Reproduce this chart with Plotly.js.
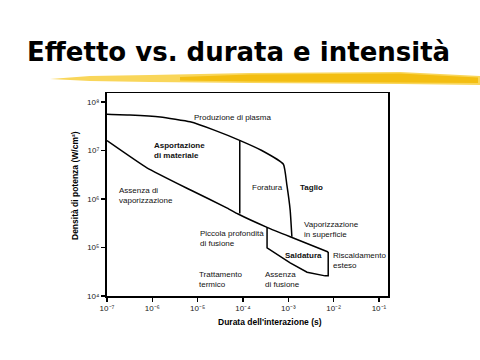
<!DOCTYPE html>
<html><head><meta charset="utf-8">
<script src="https://cdn.plot.ly/plotly-3.0.1.min.js"></script>
<style>html,body{margin:0;padding:0;background:#fff}#chart{width:480px;height:360px}</style>
</head><body><div id="chart"></div>
<script>
// ---- data (interaction time in s, power density in W/cm²) ----
const plasmaTime    = [1e-7, 3.2e-7, 1.5e-6, 6.8e-6, 2.4e-5, 8.7e-5, 2.6e-4, 7.8e-4, 9.3e-4, 1.1e-3, 1.2e-3];
const plasmaPower   = [5.6e7, 5.4e7, 4.9e7, 3.9e7, 2.6e7, 1.6e7, 1.0e7, 5.2e6, 1.95e6, 5.9e5, 1.66e5];
const vaporTime     = [1e-7, 7.6e-7, 6.8e-6, 4.5e-5, 7.8e-5, 3.4e-4, 1.1e-3, 7.6e-3];
const vaporPower    = [1.6e7, 4.4e6, 1.55e6, 6.5e5, 4.9e5, 2.6e5, 1.66e5, 8.1e4];
const drillTime     = [8.5e-5, 8.5e-5];
const drillPower    = [1.6e7, 5.0e5];
const weldTime      = [3.4e-4, 3.4e-4, 1.1e-3, 2.6e-3, 6.5e-3, 7.6e-3, 7.6e-3];
const weldPower     = [2.6e5, 9.8e4, 4.8e4, 3.1e4, 2.6e4, 2.6e4, 8.1e4];
const xTickVals     = [1e-7, 1e-6, 1e-5, 1e-4, 1e-3, 1e-2, 1e-1];
const xTickText     = ["10⁻⁷", "10⁻⁶", "10⁻⁵", "10⁻⁴", "10⁻³", "10⁻²", "10⁻¹"];
const yTickVals     = [1e4, 1e5, 1e6, 1e7, 1e8];
const yTickText     = ["10⁴", "10⁵", "10⁶", "10⁷", "10⁸"];
const regionLabels  = ["Produzione di plasma", "Asportazione<br>di materiale", "Assenza di<br>vaporizzazione",
                       "Foratura", "Taglio", "Piccola profondità<br>di fusione", "Vaporizzazione<br>in superficie",
                       "Saldatura", "Riscaldamento<br>esteso", "Trattamento<br>termico", "Assenza<br>di fusione"];
const boldRegions   = ["Asportazione<br>di materiale", "Taglio", "Saldatura"];

// ---- layout helpers (pixel -> paper) ----
const L = 107, R = 388, T = 93, B = 296, W = 480, H = 360;
const px = x => (x - L) / (R - L);
const py = y => (B - y) / (B - T);

const labelPos = [[192,117],[152,150],[117,195],[250,187],[298,187],[198,238],[302,229],[283,255],[331,260],[197,279],[263,279]];

const line = {color: '#000', width: 1.5};
const smooth = {color: '#000', width: 1.5, shape: 'spline', smoothing: 0.4};
const traces = [
  {x: plasmaTime, y: plasmaPower, mode: 'lines', line: smooth},
  {x: vaporTime,  y: vaporPower,  mode: 'lines', line: smooth},
  {x: drillTime,  y: drillPower,  mode: 'lines', line: line},
  {x: weldTime,   y: weldPower,   mode: 'lines', line: line}
];

const font = "Liberation Sans, Arial, sans-serif";
const annotations = regionLabels.map((t, i) => ({
  text: boldRegions.includes(t) ? '<b>' + t + '</b>' : t,
  xref: 'paper', yref: 'paper', x: px(labelPos[i][0]), y: py(labelPos[i][1]),
  xanchor: 'left', yanchor: 'middle', align: 'left', showarrow: false,
  font: {family: font, size: 8, color: '#111'}
}));
annotations.push({
  text: '<b>Durata dell\'interazione (s)</b>', xref: 'paper', yref: 'paper',
  x: px(270), y: py(322), xanchor: 'center', yanchor: 'middle', showarrow: false,
  font: {family: font, size: 8.5, color: '#000'}
});
annotations.push({
  text: '<b>Densità di potenza (W/cm²)</b>', xref: 'paper', yref: 'paper',
  x: px(75), y: py(186), xanchor: 'center', yanchor: 'middle', textangle: -90, showarrow: false,
  font: {family: font, size: 8.5, color: '#000'}
});

function pathFromPx(pts) {
  return pts.map((p, i) => (i ? 'L' : 'M') + px(p[0]).toFixed(4) + ',' + py(p[1]).toFixed(4)).join(' ') + ' Z';
}
const brushOuter = [[50,79],[90,76],[150,75],[250,73],[400,72],[480,76],[480,85],[400,84],[250,83],[150,82],[90,81]];
const brushInner = [[180,77],[250,74.5],[400,73.5],[478,77.5],[478,83],[400,82.5],[250,81.5],[180,80.5]];

const layout = {
  width: W, height: H,
  margin: {l: L, r: W - R, t: T, b: H - B, pad: 0},
  paper_bgcolor: '#fff', plot_bgcolor: '#fff',
  showlegend: false,
  title: {text: '<b>Effetto vs. durata e intensità</b>', x: 27 / W, xanchor: 'left', xref: 'container',
          y: 1 - 52 / H, yanchor: 'middle', yref: 'container',
          font: {family: "DejaVu Sans, sans-serif", size: 26, color: '#000'}},
  xaxis: {type: 'log', range: [-7, -0.8], tickvals: xTickVals, ticktext: xTickText,
          ticks: 'outside', ticklen: 4, tickwidth: 1.2, tickcolor: '#000',
          showline: true, linecolor: '#000', linewidth: 1.5, mirror: true, showgrid: false, zeroline: false,
          tickfont: {family: font, size: 8, color: '#222'}},
  yaxis: {type: 'log', range: [4, Math.log10(1e8) + 9 / 48.5], tickvals: yTickVals, ticktext: yTickText,
          ticks: 'outside', ticklen: 4, tickwidth: 1.2, tickcolor: '#000',
          showline: true, linecolor: '#000', linewidth: 2, mirror: true, showgrid: false, zeroline: false,
          tickfont: {family: font, size: 8, color: '#222'}},
  annotations: annotations,
  shapes: [
    {type: 'path', xref: 'paper', yref: 'paper', path: pathFromPx(brushOuter), fillcolor: '#F9D65A', line: {width: 0}},
    {type: 'path', xref: 'paper', yref: 'paper', path: pathFromPx(brushInner), fillcolor: '#F3BE12', line: {width: 0}}
  ]
};
Plotly.newPlot('chart', traces, layout, {staticPlot: true, displayModeBar: false});
</script></body></html>
